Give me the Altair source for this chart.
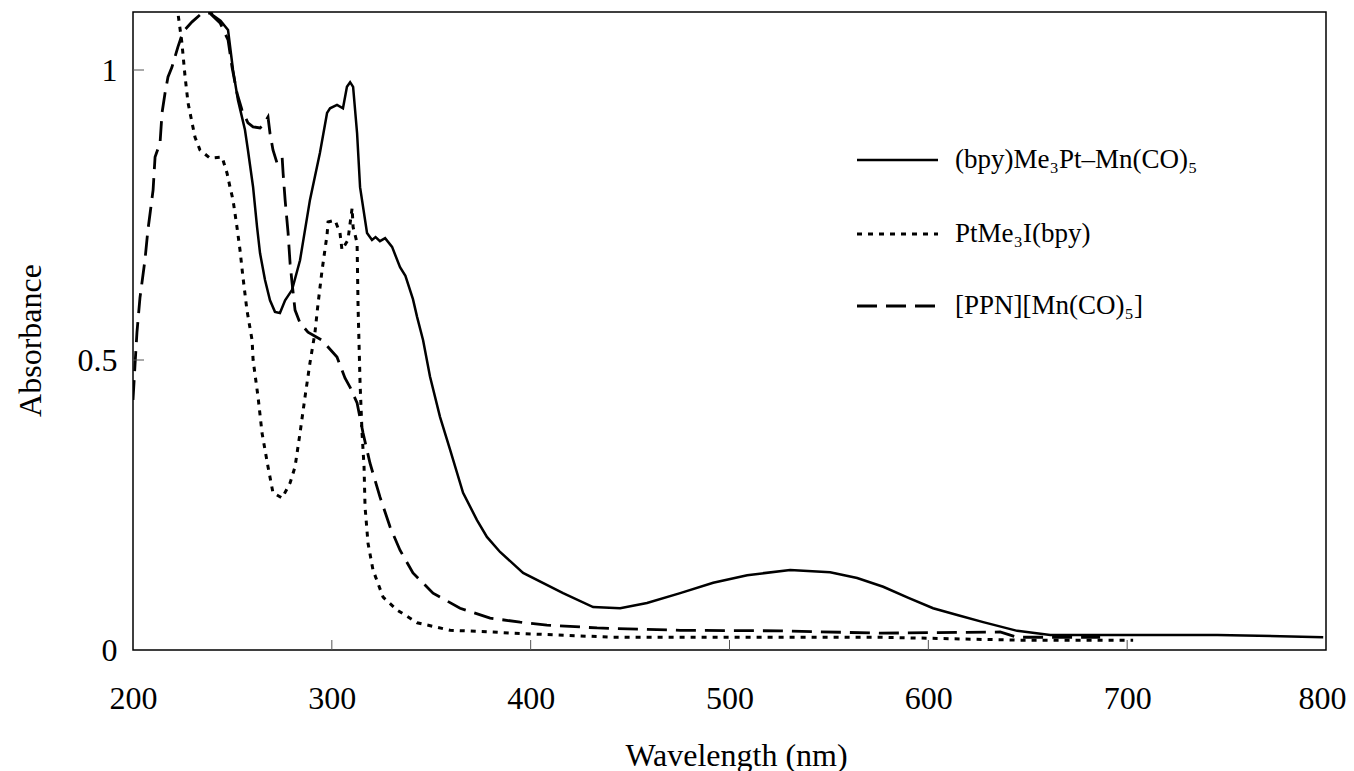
import altair as alt
import pandas as pd

# ---------------- data ----------------
series_names = ["(bpy)Me₃Pt–Mn(CO)₅", "PtMe₃I(bpy)", "[PPN][Mn(CO)₅]"]

wl_complex = [236, 240, 244, 247.8, 250.3, 252.8, 256.3, 257.8, 260.4, 262.4, 263.9, 266.4,
              268.9, 271.4, 273.9, 276.5, 280, 284, 289, 294, 297.6, 299.1, 302.6, 305.6,
              307.6, 309.2, 310.7, 312.7, 314.2, 317.7, 320.2, 322, 324.2, 326.8, 330.3,
              334.3, 337, 340.8, 342.9, 345.9, 349.4, 354.4, 359.5, 366, 373, 378, 384.6,
              396.2, 416.3, 431.4, 445, 458.5, 475.2, 491.8, 508.9, 530.5, 550.6, 564.2,
              577.3, 590, 602.4, 615, 627.6, 644.7, 661.3, 695, 745.3, 798.6]
abs_complex = [1.12, 1.095, 1.085, 1.069, 1.0, 0.948, 0.897, 0.862, 0.798, 0.729, 0.684, 0.638,
               0.603, 0.583, 0.581, 0.603, 0.621, 0.672, 0.776, 0.857, 0.926, 0.934, 0.940, 0.934,
               0.971, 0.979, 0.971, 0.891, 0.798, 0.719, 0.707, 0.712, 0.705, 0.710, 0.695,
               0.660, 0.645, 0.605, 0.574, 0.534, 0.471, 0.402, 0.345, 0.271, 0.224, 0.195, 0.169,
               0.133, 0.098, 0.074, 0.072, 0.081, 0.098, 0.116, 0.129, 0.138, 0.134, 0.124,
               0.109, 0.090, 0.072, 0.060, 0.048, 0.033, 0.026, 0.026, 0.026, 0.022]

wl_ptme3i = [220, 222.6, 224.6, 226.2, 227.7, 229.7, 231.2, 233.7, 238.7, 244.8, 247.3, 248.8,
             250.3, 252.3, 253.8, 255.3, 257.3, 259.9, 260.4, 262.9, 264.9, 267.9, 270.4, 275,
             279, 281.5, 284, 286.5, 289, 291.5, 293.1, 295.1, 297.6, 298.1, 301.6, 304.1,
             305.1, 308.1, 310.2, 310.7, 312.7, 313.2, 314.2, 315.2, 316.2, 316.7, 318.2,
             320.7, 325.8, 332.8, 342.9, 359.5, 381.1, 391.1, 441.4, 491.8, 575.8, 644.7, 703]
abs_ptme3i = [1.13, 1.098, 1.047, 0.988, 0.943, 0.909, 0.884, 0.862, 0.848, 0.850, 0.822, 0.798,
              0.776, 0.729, 0.690, 0.643, 0.586, 0.534, 0.500, 0.436, 0.374, 0.316, 0.271, 0.262,
              0.288, 0.316, 0.374, 0.436, 0.495, 0.547, 0.598, 0.655, 0.716, 0.738, 0.741, 0.719,
              0.690, 0.707, 0.762, 0.729, 0.702, 0.591, 0.460, 0.374, 0.316, 0.247, 0.184,
              0.138, 0.091, 0.069, 0.047, 0.034, 0.031, 0.029, 0.022, 0.022, 0.022, 0.017, 0.017]

wl_ppn = [200, 201, 202, 203.5, 206, 207.5, 208.6, 210.1, 211.1, 213.6, 214.6, 216.1, 217.6,
          219.6, 222.6, 225.2, 229.7, 234.7, 238.7, 243.8, 247.8, 249.8, 252.3, 254.8, 257.8,
          260.4, 263.9, 265.4, 267.9, 268.9, 270.4, 272.4, 275, 275.5, 276.5, 278, 279, 280,
          281.5, 284, 288, 295.1, 302.6, 306.6, 309.2, 312.7, 315.7, 319.2, 324.2, 329.3,
          334.3, 340.8, 350.9, 364.5, 379.6, 394.7, 408.2, 433.4, 475.2, 525.5, 575.8, 636.1,
          644.7, 686.4]
abs_ppn = [0.431, 0.491, 0.548, 0.607, 0.672, 0.724, 0.753, 0.793, 0.850, 0.874, 0.926, 0.960, 0.988,
           1.005, 1.040, 1.066, 1.083, 1.098, 1.098, 1.081, 1.052, 1.005, 0.960, 0.931, 0.909,
           0.902, 0.900, 0.905, 0.919, 0.891, 0.862, 0.840, 0.850, 0.822, 0.776, 0.719, 0.667, 0.633,
           0.586, 0.564, 0.548, 0.534, 0.505, 0.469, 0.453, 0.426, 0.374, 0.322, 0.264, 0.212,
           0.172, 0.133, 0.098, 0.072, 0.055, 0.048, 0.043, 0.038, 0.034, 0.033, 0.029, 0.031,
           0.022, 0.022]

x_tick_values = [200, 300, 400, 500, 600, 700, 800]
y_tick_values = [0, 0.5, 1]
x_inner_ticks = [300, 400, 500, 600, 700]
y_inner_ticks = [0.5, 1]

# ---------------- chart ----------------
FONT = "Liberation Serif"
W, H = 1193, 638

x_scale = alt.Scale(domain=[200, 800], nice=False, zero=False)
y_scale = alt.Scale(domain=[0, 1.1], nice=False, zero=False)

x_axis = alt.Axis(values=x_tick_values, ticks=False, tickSize=0, domain=False, grid=False,
                  labelFont=FONT, labelFontSize=32, labelColor="black",
                  labelBaseline="alphabetic", labelPadding=58, labelFlush=False,
                  labelOffset={"condition": {"test": "datum.value == 800", "value": -4}, "value": 0},
                  title="Wavelength (nm)", titleFont=FONT, titleFontSize=32,
                  titleFontWeight="normal", titleColor="black",
                  titleBaseline="alphabetic", titleAlign="center", titleY=115, titleX=603)
y_axis = alt.Axis(values=y_tick_values, ticks=False, tickSize=0, domain=False, grid=False,
                  format="~g", labelFont=FONT, labelFontSize=32, labelColor="black",
                  labelBaseline="middle", labelPadding=16, labelFlush=False,
                  title="Absorbance", titleFont=FONT, titleFontSize=32,
                  titleFontWeight="normal", titleColor="black", titleAngle=270,
                  titleBaseline="alphabetic", titleAlign="center", titleX=-93, titleY=328)

X = alt.X("wl:Q", scale=x_scale, axis=x_axis)
Y = alt.Y("A:Q", scale=y_scale, axis=y_axis)

styles = [
    dict(strokeWidth=2.5),
    dict(strokeWidth=3, strokeDash=[5, 6]),
    dict(strokeWidth=2.8, strokeDash=[20, 9]),
]
series = [(wl_complex, abs_complex), (wl_ptme3i, abs_ptme3i), (wl_ppn, abs_ppn)]

layers = []
for (wl, ab), st in zip(series, styles):
    df = pd.DataFrame({"wl": wl, "A": ab})
    layers.append(alt.Chart(df).mark_line(color="black", clip=True, **st).encode(x=X, y=Y))

# inward tick marks
xt = pd.DataFrame({"wl": x_inner_ticks})
layers.append(alt.Chart(xt).mark_rule(color="#555", strokeWidth=1).encode(
    x=X, y=alt.value(H), y2=alt.value(H - 10)))
yt = pd.DataFrame({"A": y_inner_ticks})
layers.append(alt.Chart(yt).mark_rule(color="#555", strokeWidth=1).encode(
    y=Y, x=alt.value(0), x2=alt.value(11)))

# legend
legend_y = [148, 222, 294]
one = pd.DataFrame({"k": [0]})
for name, st, ly in zip(series_names, styles, legend_y):
    layers.append(alt.Chart(one).mark_rule(color="black", **st).encode(
        x=alt.value(724), x2=alt.value(805), y=alt.value(ly)))
    layers.append(alt.Chart(one).mark_text(align="left", baseline="middle", font=FONT,
                                           fontSize=27, color="black").encode(
        x=alt.value(822), y=alt.value(ly), text=alt.value(name)))

chart = alt.layer(*layers).properties(
    width=W, height=H,
    autosize=alt.AutoSizeParams(type="none"),
    padding={"left": 125, "top": 4, "right": 20, "bottom": 121},
).configure(background="white").configure_view(stroke="black", strokeWidth=1.5)

chart.save("out.html", embed_options={"renderer": "svg", "actions": False})
